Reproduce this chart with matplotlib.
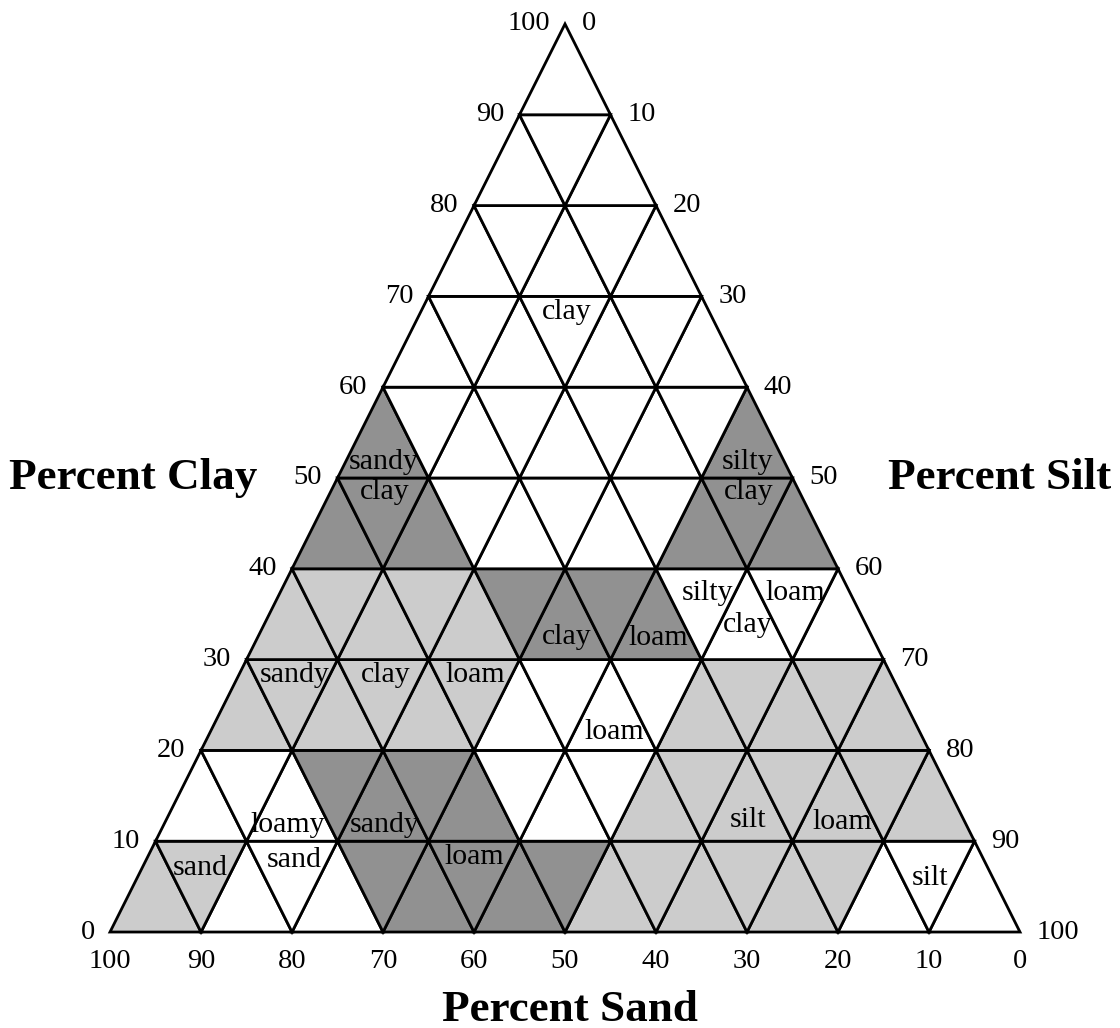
import matplotlib.pyplot as plt
from matplotlib.patches import Polygon

plt.rcParams['font.family'] = ['Liberation Serif', 'DejaVu Serif']

ticks = [0, 10, 20, 30, 40, 50, 60, 70, 80, 90, 100]

# shading of each 10% cell, row by row from the bottom (clay 0-10 first)
# W = white, L = light gray, D = dark gray
up_shades = [
    "LWWDDLLLWW",
    "WWDDWLLLL",
    "LLLWWLLL",
    "LLLDDWW",
    "DDWWDD",
    "DWWWD",
    "WWWW",
    "WWW",
    "WW",
    "W",
]
down_shades = [
    "LWDDDLLLW",
    "WDDWWLLL",
    "LLLWWLL",
    "LLDDWW",
    "DWWWD",
    "WWWW",
    "WWW",
    "WW",
    "W",
    "",
]
shade_colors = {'W': 'white', 'L': '#cccccc', 'D': '#919191'}

# texture names: text, percent silt, percent clay
labels = [
    ("clay", 16.0, 68.3),
    ("sandy", 4.2, 51.8), ("clay", 5.9, 48.5),
    ("silty", 44.2, 51.8), ("clay", 45.9, 48.5),
    ("silty", 47.0, 37.3), ("loam", 56.7, 37.3), ("clay", 53.2, 33.8),
    ("clay", 33.9, 32.5), ("loam", 44.0, 32.4),
    ("sandy", 6.1, 28.3), ("clay", 16.1, 28.3), ("loam", 26.0, 28.3),
    ("loam", 44.4, 22.0),
    ("loamy", 13.6, 11.8), ("sandy", 24.3, 11.8),
    ("silt", 64.0, 12.3), ("loam", 74.4, 12.1),
    ("sand", 6.4, 7.0), ("sand", 16.3, 7.9), ("loam", 35.9, 8.3),
    ("silt", 87.2, 5.9),
]


def to_xy(silt, clay):
    return silt + clay / 2, clay


fig = plt.figure(figsize=(11.2, 10.28), dpi=100)
ax = fig.add_axes([0, 0, 1, 1])
ax.set_xlim(-12.09, 110.99)
ax.set_ylim(-10.57, 102.64)
ax.axis('off')

for r in range(10):
    y0, y1 = 10 * r, 10 * r + 10
    for i, s in enumerate(up_shades[r]):
        x0 = 5 * r + 10 * i
        tri = [(x0, y0), (x0 + 10, y0), (x0 + 5, y1)]
        ax.add_patch(Polygon(tri, closed=True, facecolor=shade_colors[s],
                             edgecolor='black', lw=2, joinstyle='miter'))
    for i, s in enumerate(down_shades[r]):
        x0 = 5 * r + 10 * i + 5
        tri = [(x0, y1), (x0 + 10, y1), (x0 + 5, y0)]
        ax.add_patch(Polygon(tri, closed=True, facecolor=shade_colors[s],
                             edgecolor='black', lw=2, joinstyle='miter'))

for text, silt, clay in labels:
    x, y = to_xy(silt, clay)
    ax.text(x, y, text, ha='center', va='center', fontsize=21.5)

# tick labels on the three sides
for t in ticks:
    # clay, left side
    ax.annotate(str(t), xy=(t / 2, t), xytext=(-11, 0),
                textcoords='offset points', ha='right', va='center',
                fontsize=20.5)
    # silt, right side
    ax.annotate(str(t), xy=to_xy(t, 100 - t), xytext=(12, 0),
                textcoords='offset points', ha='left', va='center',
                fontsize=20.5)
    # sand, bottom
    ax.annotate(str(t), xy=(100 - t, 0), xytext=(0, -21.5),
                textcoords='offset points', ha='center', va='center',
                fontsize=20.5)

ax.text(2.5, 50, "Percent Clay", ha='center', va='center',
        fontsize=32.5, fontweight='bold')
ax.text(97.8, 50, "Percent Silt", ha='center', va='center',
        fontsize=32.5, fontweight='bold')
ax.text(50.5, -8.6, "Percent Sand", ha='center', va='center',
        fontsize=32.5, fontweight='bold')

fig.savefig('out.png', dpi=100)
